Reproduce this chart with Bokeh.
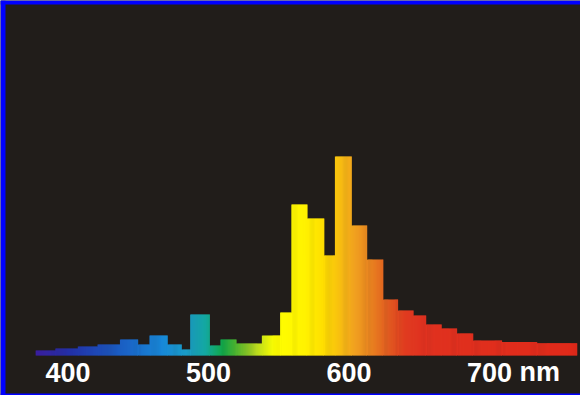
import numpy as np
from bokeh.plotting import figure
from bokeh.models import Range1d, FixedTicker, ColumnDataSource, BoxAnnotation
from bokeh.core.properties import value
from bokeh.embed import file_html
from bokeh.resources import INLINE

# ---- data ----
# bin edges in nm and relative intensity (% of the 590-602 nm peak)
bin_edges = [377, 391, 407, 421, 437, 450, 458, 471, 481, 487, 501, 508.5, 520,
             538, 551, 559, 570.5, 582.5, 590, 602, 613, 624.5, 635, 646, 655,
             666, 677, 688.5, 709, 734, 762.5]
intensity = [2.5, 3.5, 4.5, 5.5, 8, 5.5, 10, 5.5, 3, 20.6, 5, 8, 6, 10, 21.6,
             75.9, 68.8, 50.3, 100, 65.3, 48.2, 28.1, 22.6, 20.1, 15.6, 13.6,
             11.1, 7.5, 6.8, 6.2]
tick_values = [400, 500, 600, 700]
tick_labels = ["400", "500", "600", "700"]
unit_label = "nm"

# ---- colour of the spectrum along the wavelength axis (style) ----
stop_nm = [377, 403, 439, 467, 486.5, 498, 510, 519, 533.5, 547.5, 569, 581,
           593, 604.5, 616.5, 629, 640, 652, 763]
stop_col = ["#3a1e9e", "#2232a8", "#1a60c4", "#1888d8", "#1a9ec4", "#14a8a0",
            "#12a84a", "#48b030", "#b4d820", "#ffff00", "#fff200", "#ffe000",
            "#f8c010", "#f0a020", "#e88020", "#e05820", "#e03c20", "#e03220",
            "#e02a1a"]
stop_rgb = np.array([[int(c[i:i + 2], 16) for i in (1, 3, 5)] for c in stop_col])


def spectrum_colour(nm):
    r, g, b = (np.interp(nm, stop_nm, stop_rgb[:, k]) for k in range(3))
    return "#%02x%02x%02x" % (int(round(r)), int(round(g)), int(round(b)))


# split every bar into thin slices so it can carry the horizontal gradient;
# the lower of two neighbouring bars reaches a little under the taller one
# so no seam shows at the bar boundaries
step = 0.7
ov = 0.6
n_bins = len(intensity)
lefts, rights, tops, cols = [], [], [], []
for i, h in enumerate(intensity):
    l, r = bin_edges[i], bin_edges[i + 1]
    ext_l = ov if i > 0 and intensity[i - 1] >= h else 0.0
    ext_r = ov if i < n_bins - 1 and intensity[i + 1] >= h else 0.0
    n = max(1, int(np.ceil((r - l) / step)))
    xs = np.linspace(l, r, n + 1)
    for j in range(n):
        a, b = xs[j], xs[j + 1]
        aa = a - ext_l if j == 0 else a
        bb = b + ext_r if j == n - 1 else min(b + step * 0.6, r)
        lefts.append(aa)
        rights.append(bb)
        tops.append(h)
        cols.append(spectrum_colour((a + b) / 2))

src = ColumnDataSource(dict(left=lefts, right=rights, top=tops,
                            bottom=[0] * len(lefts), color=cols))

W, H = 580, 395
p = figure(width=W, height=H,
           x_range=Range1d(352.0, 764.8), y_range=Range1d(-20.1, 178.4),
           output_backend="svg", toolbar_location=None,
           background_fill_color="#211d1a", border_fill_color="#211d1a",
           min_border=0, y_axis_location=None, title=None)
p.outline_line_color = None
p.grid.visible = False

p.quad(left="left", right="right", top="top", bottom="bottom",
       fill_color="color", line_color=None, source=src)

ax = p.xaxis[0]
ax.fixed_location = 0
ax.ticker = FixedTicker(ticks=tick_values)
ax.major_label_overrides = {t: s for t, s in zip(tick_values, tick_labels)}
ax.axis_line_color = None
ax.major_tick_line_color = None
ax.minor_tick_line_color = None
ax.major_label_standoff = 1
ax.major_label_text_color = "white"
ax.major_label_text_font = "Liberation Sans"
ax.major_label_text_font_style = "bold"
ax.major_label_text_font_size = "27px"

p.text(x=[tick_values[-1]], y=[0], text=[unit_label], x_offset=30, y_offset=1,
       text_align="left", text_baseline="top", text_color="white",
       text_font=value("Liberation Sans"), text_font_style="bold",
       text_font_size="27px")

# blue frame round the picture (left, top and bottom edges)
frame_blue = "#0000ff"
for kw in (dict(left=0, right=5), dict(top=0, bottom=2), dict(top=H - 4, bottom=H)):
    units = {k + "_units": "screen" for k in kw}
    p.add_layout(BoxAnnotation(fill_color=frame_blue, fill_alpha=1,
                               line_color=None, **kw, **units))

open("out.html", "w").write(file_html(p, INLINE))
